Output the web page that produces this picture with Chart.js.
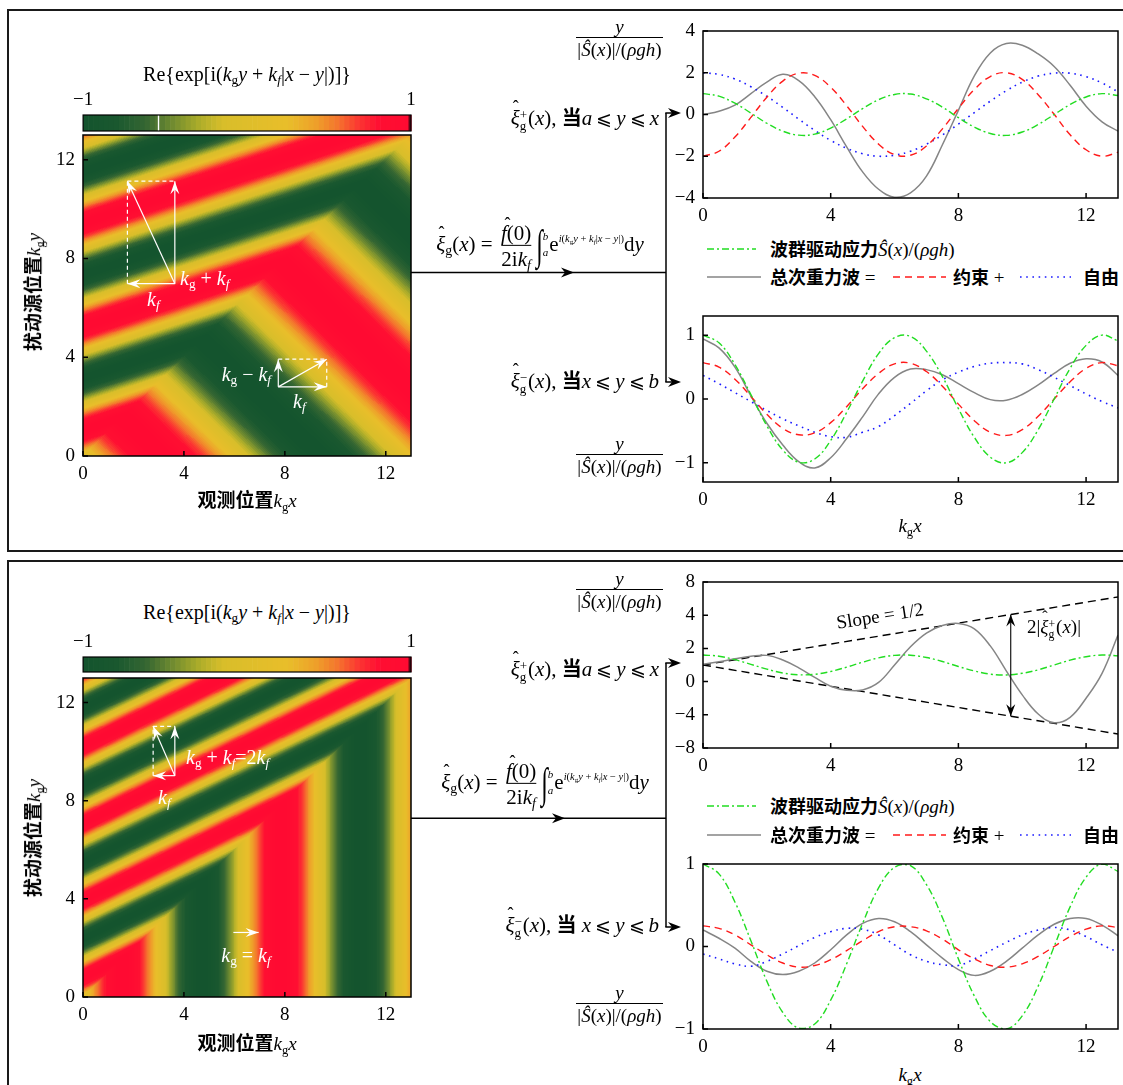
<!DOCTYPE html>
<html>
<head>
<meta charset="utf-8">
<script src="https://cdn.jsdelivr.net/npm/chart.js@4.4.1/dist/chart.umd.min.js"></script>
<style>
html,body{margin:0;padding:0;background:#fff;}
body{width:1123px;height:1085px;position:relative;overflow:hidden;font-family:"Liberation Serif","DejaVu Serif",serif;color:#000;}
canvas{position:absolute;z-index:1;}
#ov{position:absolute;left:0;top:0;z-index:0;}
.t{position:absolute;white-space:nowrap;font-size:19px;line-height:1.15;z-index:2;}
.big{font-size:21px;}
.cn{font-family:"Noto Sans CJK SC",sans-serif;font-weight:700;font-size:18px;}
.big .cn{font-size:20px;}
.ax .cn{font-size:19px;}
.w{color:#fff;font-size:20px;}
sub,sup{font-size:0.66em;line-height:0;}
sub{vertical-align:-0.3em;}
sup{vertical-align:0.55em;}
.hat{position:relative;display:inline-block;}
.hat>b{position:absolute;left:0.12em;top:-0.5em;font-weight:normal;font-style:normal;font-size:0.85em;}
.ss{display:inline-block;vertical-align:-0.4em;line-height:0.85;font-size:0.62em;margin-right:1px;}
.fr{display:inline-flex;flex-direction:column;vertical-align:middle;text-align:center;margin:0 3px;}
.fr>span:last-child{border-top:1px solid #000;padding-top:1px;}
.int{display:inline-block;font-size:24px;transform:scale(1,1.75);vertical-align:-3px;margin-left:2px;}
.lim{display:inline-block;vertical-align:-0.45em;line-height:1.45;font-size:11px;font-style:italic;margin-right:1px;}
.ex{font-size:10.5px;vertical-align:0.85em;}
.le{font-family:"DejaVu Serif";font-size:19px;margin:0 4px;}
.frac{position:absolute;left:576px;width:87px;text-align:center;font-size:19px;z-index:2;}
.frac>div:first-child{height:21px;line-height:21px;}
.frac>div:last-child{border-top:1px solid #000;line-height:24px;}
</style>
</head>
<body>
<svg id="ov" width="1123" height="1085"></svg>
<canvas id="cbT"></canvas><canvas id="hmT"></canvas>
<canvas id="cbB"></canvas><canvas id="hmB"></canvas>
<canvas id="tu"></canvas><canvas id="tl"></canvas>
<canvas id="bu"></canvas><canvas id="bl"></canvas>
<script>
// x positions (k_g x) shared by all line panels
const xs = [0,0.5,1,1.5,2,2.5,3,3.5,4,4.5,5,5.5,6,6.5,7,7.5,8,8.5,9,9.5,10,10.5,11,11.5,12,12.5,13];
const XTICKS = [0,4,8,12];
const HM_TICKS = [0,4,8,12];
const CB_TICKS = [-1,1];

// top panel, upper plot: xi+ (a <= y <= x)
const tuForce = [1.00,0.88,0.54,0.07,-0.42,-0.80,-0.99,-0.94,-0.65,-0.21,0.28,0.71,0.96,0.98,0.75,0.35,-0.15,-0.60,-0.91,-1.00,-0.84,-0.48,0.00,0.48,0.84,1.00,0.91];
const tuTotal = [0.00,0.16,0.45,1.00,1.55,1.93,1.62,0.85,-0.25,-1.55,-2.75,-3.58,-3.96,-3.75,-2.95,-1.45,0.20,1.85,2.95,3.40,3.32,2.90,2.30,1.40,0.40,-0.35,-0.80];
const tuBound = [-2.00,-1.76,-1.08,-0.14,0.83,1.60,1.98,1.87,1.31,0.42,-0.57,-1.42,-1.92,-1.95,-1.51,-0.69,0.29,1.20,1.82,2.00,1.68,0.95,0.01,-0.97,-1.69,-2.00,-1.81];
const tuFree = [2.00,1.92,1.70,1.33,0.87,0.34,-0.22,-0.76,-1.24,-1.62,-1.88,-2.00,-1.95,-1.76,-1.42,-0.98,-0.46,0.09,0.64,1.14,1.55,1.84,1.98,1.98,1.81,1.51,1.09];
const tuYTicks = [-4,-2,0,2,4];

// top panel, lower plot: xi- (x <= y <= b)
const tlForce = [1.00,0.88,0.54,0.07,-0.42,-0.80,-0.99,-0.94,-0.65,-0.21,0.28,0.71,0.96,0.98,0.75,0.35,-0.15,-0.60,-0.91,-1.00,-0.84,-0.48,0.00,0.48,0.84,1.00,0.91];
const tlTotal = [0.94,0.80,0.50,0.05,-0.38,-0.72,-0.98,-1.08,-0.92,-0.62,-0.28,0.08,0.34,0.47,0.46,0.38,0.24,0.10,-0.01,-0.02,0.07,0.22,0.40,0.56,0.63,0.58,0.37];
const tlBound = [0.57,0.50,0.31,0.04,-0.24,-0.46,-0.56,-0.53,-0.37,-0.12,0.16,0.40,0.55,0.56,0.43,0.20,-0.08,-0.34,-0.52,-0.57,-0.48,-0.27,0.00,0.27,0.48,0.57,0.52];
const tlFree = [0.37,0.24,0.10,-0.04,-0.18,-0.31,-0.42,-0.52,-0.59,-0.60,-0.52,-0.43,-0.26,-0.07,0.13,0.30,0.42,0.51,0.56,0.57,0.55,0.46,0.34,0.21,0.08,-0.04,-0.14];
const tlYTicks = [-1,0,1];

// bottom panel, upper plot (axis labels as printed: 8,4,2,0,-4,-8)
const buForce = [1.60,1.53,1.32,1.04,0.75,0.52,0.41,0.44,0.61,0.87,1.17,1.43,1.58,1.59,1.45,1.21,0.91,0.64,0.45,0.40,0.50,0.71,1.00,1.29,1.50,1.60,1.55];
const buTotal = [1.04,1.20,1.37,1.52,1.58,1.30,0.83,0.25,-0.28,-0.52,-0.50,-0.05,1.00,2.10,2.92,3.38,3.50,3.18,2.15,0.65,-0.80,-1.95,-2.48,-2.15,-1.00,0.50,2.81];
const buEnvX = [0,13];
const buEnvUp = [1.00,5.10];
const buEnvLo = [1.00,-3.16];
const buYTicks = [-4,-2,0,2,4,6];
const buYLabels = ['\u22128','\u22124','0','2','4','8'];

// bottom panel, lower plot
const blForce = [1.00,0.88,0.54,0.07,-0.42,-0.80,-0.99,-0.94,-0.65,-0.21,0.28,0.71,0.96,0.98,0.75,0.35,-0.15,-0.60,-0.91,-1.00,-0.84,-0.48,0.00,0.48,0.84,1.00,0.91];
const blTotal = [0.20,0.10,-0.02,-0.18,-0.30,-0.34,-0.30,-0.20,-0.04,0.14,0.28,0.34,0.30,0.18,0.02,-0.14,-0.28,-0.35,-0.30,-0.18,-0.02,0.14,0.27,0.34,0.34,0.26,0.13];
const blBound = [0.25,0.22,0.14,0.02,-0.10,-0.20,-0.25,-0.23,-0.16,-0.05,0.07,0.18,0.24,0.24,0.19,0.09,-0.04,-0.15,-0.23,-0.25,-0.21,-0.12,0.00,0.12,0.21,0.25,0.23];
const blFree = [-0.09,-0.15,-0.21,-0.24,-0.18,-0.09,0.01,0.11,0.18,0.22,0.21,0.14,0.02,-0.10,-0.18,-0.22,-0.23,-0.15,-0.05,0.05,0.14,0.20,0.23,0.20,0.12,0.02,-0.07];
const blYTicks = [-1,0,1];

// wavenumbers of the field maps (units of k_g)
const KG = 1;
const KF_TOP = 0.5;
const KF_BOT = 1;

const GREEN = '#22dd22', GRAY = '#858585', RED = '#ff1a1a', BLUE = '#1a1aff';
const DASH_G = [7,3,2,3], DASH_R = [7,5], DASH_B = [1.6,4.6];
const FONT = {family: 'Liberation Serif', size: 19};
Chart.defaults.font.family = 'Liberation Serif';

function fmt(v) { return v < 0 ? '\u2212' + Math.abs(v) : String(v); }

// colour map: dark green -> olive -> yellow -> orange -> red
const CMAP = [[-1,[20,84,46]],[-0.8,[26,88,47]],[-0.62,[52,102,50]],[-0.46,[110,138,48]],[-0.3,[170,172,42]],
  [-0.15,[216,190,42]],[0.25,[233,190,42]],[0.42,[238,160,42]],[0.55,[244,118,45]],[0.68,[251,55,50]],[0.8,[255,15,50]],[1,[255,10,50]]];
const NL = 64;
const LUT = [];
for (let k = 0; k < NL; k++) {
  const v = -1 + 2 * (k + 0.5) / NL;
  let i = 0;
  while (i < CMAP.length - 2 && v > CMAP[i + 1][0]) i++;
  const [v0, c0] = CMAP[i], [v1, c1] = CMAP[i + 1];
  const f = Math.min(1, Math.max(0, (v - v0) / (v1 - v0)));
  LUT.push(c0.map((c, j) => Math.round(c + (c1[j] - c) * f)));
}
function level(v) { return Math.max(0, Math.min(NL - 1, Math.floor((v + 1) / 2 * NL))); }

function place(id, area, pad) {
  const c = document.getElementById(id);
  c.width = area[2] - area[0] + pad.l + pad.r;
  c.height = area[3] - area[1] + pad.t + pad.b;
  c.style.left = (area[0] - pad.l) + 'px';
  c.style.top = (area[1] - pad.t) + 'px';
  return c;
}

// box frame with inward ticks
const frame = {
  id: 'frame',
  afterDatasetsDraw(chart) {
    const {ctx, chartArea: a, scales: {x, y}} = chart;
    ctx.save();
    ctx.strokeStyle = '#000';
    ctx.lineWidth = 1.5;
    ctx.strokeRect(a.left, a.top, a.right - a.left, a.bottom - a.top);
    ctx.beginPath();
    x.ticks.forEach(t => { const p = x.getPixelForValue(t.value); ctx.moveTo(p, a.bottom); ctx.lineTo(p, a.bottom - 5); });
    y.ticks.forEach(t => { const p = y.getPixelForValue(t.value); ctx.moveTo(a.left, p); ctx.lineTo(a.left + 5, p); });
    ctx.stroke();
    ctx.restore();
  }
};

// the field Re{exp[i(kg y + kf|x-y|)]} painted through the chart scales
const field = {
  id: 'field',
  beforeDatasetsDraw(chart, args, o) {
    const {ctx, chartArea: a, scales: {x, y}} = chart;
    const L = Math.round(a.left), T = Math.round(a.top);
    const W = Math.round(a.right) - L, H = Math.round(a.bottom) - T;
    const img = ctx.createImageData(W, H);
    for (let j = 0; j < H; j++) {
      const yv = y.getValueForPixel(T + j + 0.5);
      for (let i = 0; i < W; i++) {
        const xv = x.getValueForPixel(L + i + 0.5);
        const v = Math.sin(KG * yv + o.kf * Math.abs(xv - yv));
        const c = LUT[level(v)];
        const k = (j * W + i) * 4;
        img.data[k] = c[0]; img.data[k + 1] = c[1]; img.data[k + 2] = c[2]; img.data[k + 3] = 255;
      }
    }
    ctx.putImageData(img, L, T);
  }
};

function head(ctx, x0, y0, x1, y1, L, W) {
  const a = Math.atan2(y1 - y0, x1 - x0);
  ctx.save();
  ctx.translate(x1, y1);
  ctx.rotate(a);
  ctx.beginPath();
  ctx.moveTo(0, 0);
  ctx.lineTo(-L, -W);
  ctx.lineTo(-L * 0.65, 0);
  ctx.lineTo(-L, W);
  ctx.closePath();
  ctx.fill();
  ctx.restore();
}

const ann = {
  id: 'ann',
  afterDatasetsDraw(chart, args, o) {
    const {ctx, scales: {x, y}} = chart;
    ctx.save();
    ctx.strokeStyle = o.color || '#fff';
    ctx.fillStyle = o.color || '#fff';
    ctx.lineWidth = o.width || 1.2;
    ctx.setLineDash([4, 3]);
    (o.dashed || []).forEach(s => {
      ctx.beginPath();
      ctx.moveTo(x.getPixelForValue(s[0]), y.getPixelForValue(s[1]));
      ctx.lineTo(x.getPixelForValue(s[2]), y.getPixelForValue(s[3]));
      ctx.stroke();
    });
    ctx.setLineDash([]);
    (o.arrows || []).forEach(s => {
      const x0 = x.getPixelForValue(s[0]), y0 = y.getPixelForValue(s[1]);
      const x1 = x.getPixelForValue(s[2]), y1 = y.getPixelForValue(s[3]);
      ctx.beginPath(); ctx.moveTo(x0, y0); ctx.lineTo(x1, y1); ctx.stroke();
      head(ctx, x0, y0, x1, y1, o.hl || 13, o.hw || 4.5);
      if (s[4]) head(ctx, x1, y1, x0, y0, o.hl || 13, o.hw || 4.5);
    });
    ctx.restore();
  }
};

const cbar = {
  id: 'cbar',
  beforeDatasetsDraw(chart, args, o) {
    const {ctx, chartArea: a, scales: {x}} = chart;
    for (let k = 0; k < NL; k++) {
      const p0 = x.getPixelForValue(-1 + 2 * k / NL), p1 = x.getPixelForValue(-1 + 2 * (k + 1) / NL);
      ctx.fillStyle = 'rgb(' + LUT[k].join(',') + ')';
      ctx.fillRect(p0, a.top, p1 - p0 + 0.6, a.bottom - a.top);
    }
    const p = x.getPixelForValue(0.985);
    ctx.fillStyle = '#5a0818';
    ctx.fillRect(p, a.top, a.right - p, a.bottom - a.top);
    if (o.mark !== undefined) {
      ctx.fillStyle = '#fff';
      ctx.fillRect(x.getPixelForValue(o.mark) - 0.7, a.top, 1.4, a.bottom - a.top);
    }
    ctx.strokeStyle = '#000';
    ctx.lineWidth = 1.2;
    ctx.strokeRect(a.left, a.top, a.right - a.left, a.bottom - a.top);
  }
};

function axisX(ticks, pad, extra) {
  return Object.assign({
    type: 'linear', min: 0, max: 13,
    grid: {display: false, drawTicks: false}, border: {display: false},
    afterBuildTicks: s => { s.ticks = ticks.map(v => ({value: v})); },
    afterFit: s => { s.height = pad.b; },
    ticks: {font: FONT, color: '#000', padding: 7, maxRotation: 0, autoSkip: false, callback: v => fmt(v)}
  }, extra || {});
}
function axisY(ticks, min, max, pad, cb) {
  return {
    type: 'linear', min: min, max: max,
    grid: {display: false, drawTicks: false}, border: {display: false},
    afterBuildTicks: s => { s.ticks = ticks.map(v => ({value: v})); },
    afterFit: s => { s.width = pad.l; },
    ticks: {font: FONT, color: '#000', padding: 8, autoSkip: false, callback: cb || (v => fmt(v))}
  };
}

function series(xv, arr, color, dash, w) {
  return {
    data: xv.map((x, i) => ({x: x, y: arr[i]})),
    borderColor: color, borderWidth: w || 1.4, borderDash: dash || [],
    pointRadius: 0, fill: false, tension: 0.4
  };
}

function lineChart(id, area, yt, ymin, ymax, sets, cb, extraPlugins, extraOpts) {
  const pad = {l: 60, t: 26, r: 6, b: 34};
  const c = place(id, area, pad);
  return new Chart(c, {
    type: 'line',
    data: {datasets: sets},
    options: {
      responsive: false, animation: false, events: [],
      layout: {padding: {left: 0, top: pad.t, right: pad.r, bottom: 0}},
      plugins: Object.assign({legend: {display: false}, tooltip: {enabled: false}}, extraOpts || {}),
      scales: {x: axisX(XTICKS, pad), y: axisY(yt, ymin, ymax, pad, cb)}
    },
    plugins: [frame].concat(extraPlugins || [])
  });
}

function heatChart(id, area, kf, annOpts) {
  const pad = {l: 60, t: 26, r: 8, b: 30};
  const c = place(id, area, pad);
  return new Chart(c, {
    type: 'scatter',
    data: {datasets: []},
    options: {
      responsive: false, animation: false, events: [],
      layout: {padding: {left: 0, top: pad.t, right: pad.r, bottom: 0}},
      plugins: {legend: {display: false}, tooltip: {enabled: false}, field: {kf: kf}, ann: annOpts},
      scales: {x: axisX(HM_TICKS, pad), y: axisY(HM_TICKS, 0, 13, pad)}
    },
    plugins: [field, frame, ann]
  });
}

function colorBar(id, area, mark) {
  const pad = {l: 14, t: 30, r: 14, b: 4};
  const c = place(id, area, pad);
  return new Chart(c, {
    type: 'scatter',
    data: {datasets: []},
    options: {
      responsive: false, animation: false, events: [],
      layout: {padding: {left: pad.l, top: 0, right: pad.r, bottom: pad.b}},
      plugins: {legend: {display: false}, tooltip: {enabled: false}, cbar: {mark: mark}},
      scales: {
        x: {type: 'linear', position: 'top', min: -1, max: 1,
            grid: {display: false, drawTicks: false}, border: {display: false},
            afterBuildTicks: s => { s.ticks = CB_TICKS.map(v => ({value: v})); },
            afterFit: s => { s.height = pad.t; },
            ticks: {font: FONT, color: '#000', padding: 4, maxRotation: 0, autoSkip: false, callback: v => fmt(v)}},
        y: {display: false, min: 0, max: 1}
      }
    },
    plugins: [cbar]
  });
}

// white construction arrows on the field maps (data coordinates)
const TOP_ANN = {
  dashed: [[1.76,11.13,3.64,11.13],[1.76,6.98,1.76,11.13],[7.74,3.92,9.66,3.92],[9.66,2.80,9.66,3.92]],
  arrows: [[3.64,6.98,3.64,11.13],[3.64,6.98,1.76,6.98],[3.64,6.98,1.76,11.13],
           [7.74,2.80,7.74,3.92],[7.74,2.80,9.66,2.80],[7.74,2.80,9.66,3.92]]
};
const BOT_ANN = {
  dashed: [[2.78,11.03,3.64,11.03],[2.78,9.02,2.78,11.03]],
  arrows: [[3.64,9.02,3.64,11.03],[3.64,9.02,2.78,9.02],[3.64,9.02,2.78,11.03],[5.96,2.63,6.96,2.63]]
};
const BU_ARROW = {color: '#000', width: 1.1, hl: 12, hw: 4.5, arrows: [[9.64,4.04,9.64,-2.08,1]]};

colorBar('cbT', [83,115,411,131], -0.54);
heatChart('hmT', [83,135,411,456], KF_TOP, TOP_ANN);
colorBar('cbB', [83,657,411,672]);
heatChart('hmB', [83,678,411,997], KF_BOT, BOT_ANN);

lineChart('tu', [703,31,1118,198], tuYTicks, -4, 4, [
  series(xs, tuForce, GREEN, DASH_G), series(xs, tuBound, RED, DASH_R),
  series(xs, tuFree, BLUE, DASH_B, 1.6), series(xs, tuTotal, GRAY, [], 1.5)]);
lineChart('tl', [703,316,1118,482], tlYTicks, -1.3, 1.3, [
  series(xs, tlForce, GREEN, DASH_G), series(xs, tlBound, RED, DASH_R),
  series(xs, tlFree, BLUE, DASH_B, 1.6), series(xs, tlTotal, GRAY, [], 1.5)]);
lineChart('bu', [703,582,1118,748], buYTicks, -4, 6, [
  series(xs, buForce, GREEN, DASH_G), series(xs, buTotal, GRAY, [], 1.5),
  Object.assign(series(buEnvX, buEnvUp, '#000', [8,5], 1.4), {tension: 0}),
  Object.assign(series(buEnvX, buEnvLo, '#000', [8,5], 1.4), {tension: 0})],
  (v, i) => buYLabels[i], [ann], {ann: BU_ARROW});
lineChart('bl', [703,864,1118,1029], blYTicks, -1, 1, [
  series(xs, blForce, GREEN, DASH_G), series(xs, blBound, RED, DASH_R),
  series(xs, blFree, BLUE, DASH_B, 1.6), series(xs, blTotal, GRAY, [], 1.5)]);

// ---------- text ----------
function lab(html, x, y, al, cls, rot) {
  const d = document.createElement('div');
  d.className = 't ' + (cls || '');
  d.innerHTML = html;
  d.style.left = x + 'px';
  d.style.top = y + 'px';
  const tr = al === 'l' ? 'translate(0,-50%)' : al === 'r' ? 'translate(-100%,-50%)' : 'translate(-50%,-50%)';
  d.style.transform = tr + (rot ? ' rotate(' + rot + 'deg)' : '');
  document.body.appendChild(d);
  return d;
}
function frac(lineY) {
  const d = document.createElement('div');
  d.className = 'frac';
  d.style.top = (lineY - 21) + 'px';
  d.innerHTML = '<div><i>y</i></div><div>|<i>&#348;</i>(<i>x</i>)|/(<i>&rho;gh</i>)</div>';
  document.body.appendChild(d);
}
const KGs = '<i>k</i><sub>g</sub>';
const KFs = '<i>k<sub>f</sub></i>';
const XI = '<span class="hat"><i>&xi;</i><b>&#710;</b></span>';
const FH = '<span class="hat"><i>f</i><b style="left:0.2em;top:-0.42em">&#710;</b></span>';
const LE = '<span class="le">&#10877;</span>';
const TITLE = 'Re{exp[i(' + KGs + '<i>y</i> + ' + KFs + '|<i>x</i> &minus; <i>y</i>|)]}';
const FORMULA = XI + '<sub>g</sub>(<i>x</i>) = <span class="fr"><span>' + FH + '(0)</span><span>2i' + KFs + '</span></span>' +
  '<span class="int"><i>&int;</i></span><span class="lim">b<br>a</span>' +
  'e<span class="ex"><i>i</i>(<i>k</i><sub>g</sub><i>y</i> + <i>k<sub>f</sub></i>|<i>x</i> &minus; <i>y</i>|)</span>d<i>y</i>';
const XIP = XI + '<span class="ss">+<br>g</span>(<i>x</i>), ';
const XIM = XI + '<span class="ss">&minus;<br>g</span>(<i>x</i>), ';

[[0, 0], [1, 542]].forEach(([p, dy]) => {
  lab(TITLE, 247, 74 + dy - p * 4, 'c', '', 0).style.fontSize = '20px';
  lab('<span class="cn">观测位置</span>' + KGs + '<i>x</i>', 247, 500 + dy + p, 'c', 'ax');
  lab('<span class="cn">扰动源位置</span>' + KGs + '<i>y</i>', 33, 292 + dy + 4 * p, 'c', 'ax', -90);
  lab(FORMULA, 540 + 5 * p, 246 + dy - 4 * p, 'c', 'big');
  lab('<span class="cn">波群驱动应力</span><i>&#348;</i>(<i>x</i>)/(<i>&rho;gh</i>)', 770, 249 + dy + 15 * p, 'l');
  lab('<span class="cn">总次重力波</span> =', 770, 277 + dy + 16 * p, 'l');
  lab('<span class="cn">约束</span> +', 953, 277 + dy + 16 * p, 'l');
  lab('<span class="cn">自由</span>', 1083, 277 + dy + 16 * p, 'l');
  lab(KGs + '<i>x</i>', 910, 526 + dy + 7 * p, 'c');
});
lab(XIP + '<span class="cn">当</span><i>a</i>' + LE + '<i>y</i>' + LE + '<i>x</i>', 659, 118, 'r', 'big');
lab(XIM + '<span class="cn">当</span><i>x</i>' + LE + '<i>y</i>' + LE + '<i>b</i>', 659, 381, 'r', 'big');
lab(XIP + '<span class="cn">当</span><i>a</i>' + LE + '<i>y</i>' + LE + '<i>x</i>', 659, 669, 'r', 'big');
lab(XIM + '<span class="cn">当</span> <i>x</i>' + LE + '<i>y</i>' + LE + '<i>b</i>', 659, 925, 'r', 'big');
frac(37); frac(454); frac(589); frac(1003);

lab(KGs + ' + ' + KFs, 180, 278, 'l', 'w');
lab(KFs, 147, 299, 'l', 'w');
lab(KGs + ' &minus; ' + KFs, 271, 374, 'r', 'w');
lab(KFs, 293, 401, 'l', 'w');
lab(KGs + ' + ' + KFs + '=2' + KFs, 186, 757, 'l', 'w');
lab(KFs, 158, 797, 'l', 'w');
lab(KGs + ' = ' + KFs, 246, 955, 'c', 'w');

lab('Slope = 1/2', 880, 616, 'c', '', -9);
lab('2|' + XI + '<span class="ss">+<br>g</span>(<i>x</i>)|', 1027, 628, 'l');

// ---------- frames, flow arrows, legend keys ----------
const NS = 'http://www.w3.org/2000/svg';
const svg = document.getElementById('ov');
function el(tag, at) {
  const e = document.createElementNS(NS, tag);
  for (const k in at) e.setAttribute(k, at[k]);
  svg.appendChild(e);
  return e;
}
function tri(x, y) {
  el('path', {d: 'M' + x + ',' + y + ' l-13,-5 l4,5 l-4,5 z', fill: '#000'});
}
el('rect', {x: 8, y: 10, width: 1135, height: 541, fill: 'none', stroke: '#1a1a1a', 'stroke-width': 2});
el('rect', {x: 8, y: 561, width: 1135, height: 545, fill: 'none', stroke: '#1a1a1a', 'stroke-width': 2});
[[272.5, 113, 382, 574], [818.3, 663, 927, 565]].forEach(([hy, vt, vb, mid]) => {
  el('line', {x1: 411, y1: hy, x2: 666, y2: hy, stroke: '#000', 'stroke-width': 1.5});
  tri(mid, hy);
  el('line', {x1: 666, y1: vt, x2: 666, y2: vb, stroke: '#000', 'stroke-width': 1.5});
  el('line', {x1: 665.3, y1: vt, x2: 672, y2: vt, stroke: '#000', 'stroke-width': 1.5});
  el('line', {x1: 665.3, y1: vb, x2: 672, y2: vb, stroke: '#000', 'stroke-width': 1.5});
  tri(681, vt); tri(681, vb);
});
[[249, 277], [264 + 542, 293 + 542]].forEach(([r1, r2]) => {
  el('line', {x1: 707, y1: r1, x2: 756, y2: r1, stroke: GREEN, 'stroke-width': 1.4, 'stroke-dasharray': DASH_G.join(' ')});
  el('line', {x1: 707, y1: r2, x2: 761, y2: r2, stroke: GRAY, 'stroke-width': 1.5});
  el('line', {x1: 893, y1: r2, x2: 946, y2: r2, stroke: RED, 'stroke-width': 1.4, 'stroke-dasharray': DASH_R.join(' ')});
  el('line', {x1: 1020, y1: r2, x2: 1071, y2: r2, stroke: BLUE, 'stroke-width': 1.6, 'stroke-dasharray': DASH_B.join(' ')});
});
</script>
</body>
</html>
